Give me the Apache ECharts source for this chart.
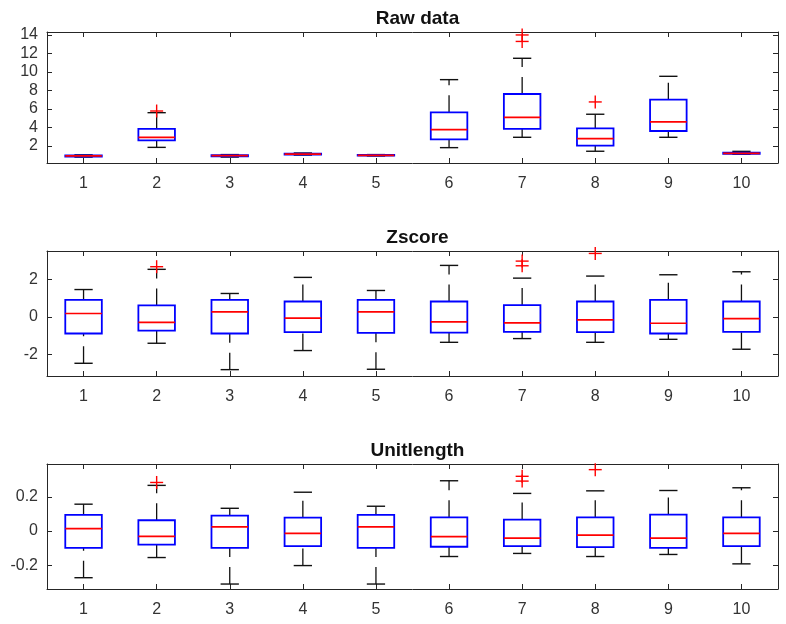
<!DOCTYPE html>
<html>
<head>
<meta charset="utf-8">
<script src="https://cdn.jsdelivr.net/npm/echarts@6/dist/echarts.min.js"></script>
<style>
html,body{margin:0;padding:0;background:#fff;}
#chart{width:786px;height:624px;}
</style>
</head>
<body>
<div id="chart"></div>
<script>
// ---------- data ----------
const categories = ['1','2','3','4','5','6','7','8','9','10'];

// Raw data: lower whisker, Q1, median, Q3, upper whisker
const rawLow  = [0.80, 1.85, 0.80, 1.02, 0.92, 1.82, 2.94, 1.43, 2.94, 1.10];
const rawQ1   = [0.86, 2.60, 0.88, 1.08, 0.96, 2.72, 3.84, 2.03, 3.62, 1.15];
const rawMed  = [0.92, 2.94, 0.95, 1.13, 0.99, 3.76, 5.10, 2.79, 4.60, 1.21];
const rawQ3   = [0.98, 3.85, 1.01, 1.18, 1.03, 5.64, 7.62, 3.91, 7.00, 1.28];
const rawHigh = [1.04, 5.60, 1.07, 1.24, 1.07, 9.17, 11.48, 5.43, 9.53, 1.42];
const rawOutCat = [2, 7, 7, 8];
const rawOutVal = [5.78, 13.3, 14.0, 6.76];
const rawTicks = [2, 4, 6, 8, 10, 12, 14];

// Zscore
const zLow  = [-2.48, -1.41, -2.82, -1.80, -2.80, -1.36, -1.16, -1.36, -1.20, -1.73];
const zQ1   = [-0.89, -0.73, -0.89, -0.82, -0.86, -0.84, -0.80, -0.82, -0.89, -0.80];
const zMed  = [ 0.18, -0.29,  0.27, -0.07,  0.27, -0.27, -0.32, -0.16, -0.34, -0.09];
const zQ3   = [ 0.91,  0.61,  0.91,  0.82,  0.91,  0.82,  0.63,  0.82,  0.91,  0.82];
const zHigh = [ 1.46,  2.54,  1.25,  2.11,  1.41,  2.75,  2.07,  2.18,  2.25,  2.41];
const zOutCat = [2, 7, 7, 8];
const zOutVal = [2.68, 2.73, 2.98, 3.39];
const zTicks = [-2, 0, 2];

// Unitlength
const uLow  = [-0.273, -0.155, -0.310, -0.202, -0.310, -0.149, -0.131, -0.149, -0.137, -0.192];
const uQ1   = [-0.098, -0.080, -0.098, -0.088, -0.098, -0.092, -0.088, -0.094, -0.098, -0.088];
const uMed  = [ 0.014, -0.031,  0.024, -0.014,  0.024, -0.033, -0.041, -0.024, -0.041, -0.014];
const uQ3   = [ 0.094,  0.063,  0.090,  0.078,  0.094,  0.080,  0.067,  0.080,  0.096,  0.080];
const uHigh = [ 0.157,  0.267,  0.133,  0.227,  0.145,  0.294,  0.220,  0.235,  0.237,  0.253];
const uOutCat = [2, 7, 7, 8];
const uOutVal = [0.284, 0.292, 0.320, 0.359];
const uTicks = [-0.2, 0, 0.2];

const titles = ['Raw data', 'Zscore', 'Unitlength'];

// ---------- layout ----------
const gridLeft = 47, gridWidth = 731;
const grids = [
  {top: 32, height: 131, min: 0.16, max: 14.32, ticks: rawTicks},
  {top: 251, height: 125, min: -3.16, max: 3.52, ticks: zTicks},
  {top: 464, height: 125, min: -0.339, max: 0.392, ticks: uTicks}
];
const panels = [
  {low: rawLow, q1: rawQ1, med: rawMed, q3: rawQ3, high: rawHigh, oc: rawOutCat, ov: rawOutVal},
  {low: zLow, q1: zQ1, med: zMed, q3: zQ3, high: zHigh, oc: zOutCat, ov: zOutVal},
  {low: uLow, q1: uQ1, med: uMed, q3: uQ3, high: uHigh, oc: uOutCat, ov: uOutVal}
];

const axisColor = '#262626';
const labelColor = '#333333';
const fontFamily = '"Liberation Sans", Arial, sans-serif';

function renderBox(params, api) {
  const x = api.value(0);
  const pLow = api.coord([x, api.value(1)]);
  const pQ1 = api.coord([x, api.value(2)]);
  const pMed = api.coord([x, api.value(3)]);
  const pQ3 = api.coord([x, api.value(4)]);
  const pHigh = api.coord([x, api.value(5)]);
  const band = api.size([1, 0])[0];
  const hb = band * 0.25;   // half box width
  const hc = band * 0.125;  // half cap width
  const cx = pMed[0];
  const whisk = {stroke: '#111111', lineWidth: 1.3, lineDash: [17, 10]};
  const cap = {stroke: '#111111', lineWidth: 1.4};
  return {
    type: 'group',
    children: [
      {type: 'line', shape: {x1: cx, y1: pQ3[1], x2: cx, y2: pHigh[1]}, style: whisk},
      {type: 'line', shape: {x1: cx, y1: pLow[1], x2: cx, y2: pQ1[1]}, style: whisk},
      {type: 'line', shape: {x1: cx - hc, y1: pHigh[1], x2: cx + hc, y2: pHigh[1]}, style: cap},
      {type: 'line', shape: {x1: cx - hc, y1: pLow[1], x2: cx + hc, y2: pLow[1]}, style: cap},
      {type: 'rect', shape: {x: cx - hb, y: pQ3[1], width: hb * 2, height: pQ1[1] - pQ3[1]},
        style: {fill: 'none', stroke: '#0000ff', lineWidth: 1.8}},
      {type: 'line', shape: {x1: cx - hb, y1: pMed[1], x2: cx + hb, y2: pMed[1]},
        style: {stroke: '#ff0000', lineWidth: 1.7}}
    ]
  };
}

function renderPlus(params, api) {
  const p = api.coord([api.value(0), api.value(1)]);
  const s = 6.5;
  const st = {stroke: '#ff0000', lineWidth: 1.4};
  return {
    type: 'group',
    children: [
      {type: 'line', shape: {x1: p[0] - s, y1: p[1], x2: p[0] + s, y2: p[1]}, style: st},
      {type: 'line', shape: {x1: p[0], y1: p[1] - s, x2: p[0], y2: p[1] + s}, style: st}
    ]
  };
}

const option = {
  animation: false,
  backgroundColor: '#ffffff',
  title: [], grid: [], xAxis: [], yAxis: [], series: []
};

grids.forEach((g, i) => {
  option.grid.push({left: gridLeft, width: gridWidth, top: g.top, height: g.height, containLabel: false});
  option.title.push({
    text: titles[i], left: gridLeft + gridWidth / 2, top: g.top - 28, textAlign: 'center',
    textStyle: {fontFamily: fontFamily, fontWeight: 'bold', fontSize: 19, color: '#111111'}
  });
});

// bottom x axes
grids.forEach((g, i) => {
  option.xAxis.push({
    type: 'category', data: categories, gridIndex: i, position: 'bottom',
    boundaryGap: true,
    axisLine: {show: true, onZero: false, lineStyle: {color: axisColor, width: 1}},
    axisTick: {show: true, inside: true, alignWithLabel: true, length: 5, lineStyle: {color: axisColor}},
    axisLabel: {show: true, color: labelColor, fontSize: 16, fontFamily: fontFamily, margin: 13},
    splitLine: {show: false}
  });
});
// top x axes
grids.forEach((g, i) => {
  option.xAxis.push({
    type: 'category', data: categories, gridIndex: i, position: 'top',
    boundaryGap: true,
    axisLine: {show: true, onZero: false, lineStyle: {color: axisColor, width: 1}},
    axisTick: {show: true, inside: true, alignWithLabel: true, length: 5, lineStyle: {color: axisColor}},
    axisLabel: {show: false},
    splitLine: {show: false}
  });
});
// left y axes
grids.forEach((g, i) => {
  option.yAxis.push({
    type: 'value', gridIndex: i, position: 'left', min: g.min, max: g.max,
    axisLine: {show: true, onZero: false, lineStyle: {color: axisColor, width: 1}},
    axisTick: {show: true, inside: true, length: 5, customValues: g.ticks, lineStyle: {color: axisColor}},
    axisLabel: {show: true, customValues: g.ticks, color: labelColor, fontSize: 16, fontFamily: fontFamily, margin: 9},
    splitLine: {show: false}
  });
});
// right y axes
grids.forEach((g, i) => {
  option.yAxis.push({
    type: 'value', gridIndex: i, position: 'right', min: g.min, max: g.max,
    axisLine: {show: true, onZero: false, lineStyle: {color: axisColor, width: 1}},
    axisTick: {show: true, inside: true, length: 5, customValues: g.ticks, lineStyle: {color: axisColor}},
    axisLabel: {show: false},
    splitLine: {show: false}
  });
});

panels.forEach((p, i) => {
  const boxData = categories.map((c, k) => [k, p.low[k], p.q1[k], p.med[k], p.q3[k], p.high[k]]);
  option.series.push({
    type: 'custom', xAxisIndex: i, yAxisIndex: i, renderItem: renderBox,
    data: boxData, clip: false, silent: true,
    encode: {x: 0, y: [1, 2, 3, 4, 5]}
  });
  const outData = p.oc.map((c, k) => [categories.indexOf(String(c)), p.ov[k]]);
  option.series.push({
    type: 'custom', xAxisIndex: i, yAxisIndex: i, renderItem: renderPlus,
    data: outData, clip: false, silent: true, z: 5,
    encode: {x: 0, y: 1}
  });
});

const chart = echarts.init(document.getElementById('chart'), null, {renderer: 'canvas'});
chart.setOption(option);
</script>
</body>
</html>
